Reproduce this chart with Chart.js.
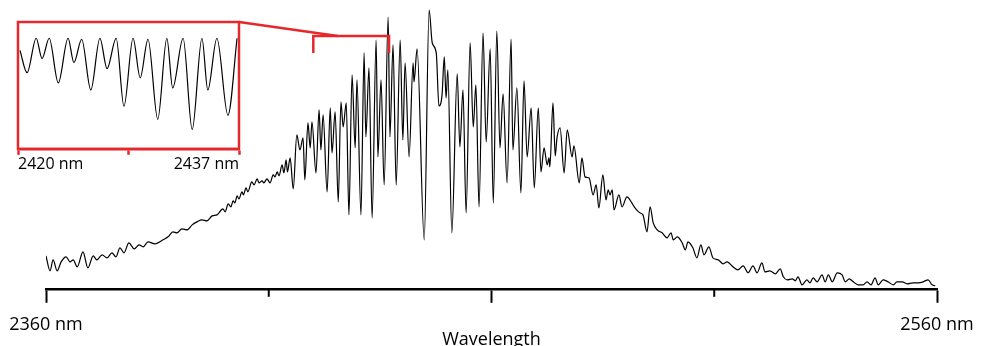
<!DOCTYPE html>
<html>
<head>
<meta charset="utf-8">
<script src="https://cdn.jsdelivr.net/npm/chart.js@4/dist/chart.umd.min.js"></script>
<style>
  html, body { margin: 0; padding: 0; background: #fff; }
  #wrap { position: relative; width: 984px; height: 346px; }
  #mainChart, #insetChart { position: absolute; left: 0; top: 0; }
</style>
</head>
<body>
<div id="wrap">
  <canvas id="mainChart" width="984" height="346"></canvas>
  <canvas id="insetChart" width="250" height="180"></canvas>
</div>
<script>
// Full spectrum (wavelength in nm, intensity in arbitrary units)
const wavelengths = [
  2360.0, 2360.9, 2361.6, 2362.5, 2363.4, 2364.5, 2365.4, 2366.1, 2367.0, 2368.3,
  2369.4, 2370.6, 2371.4, 2372.6, 2373.7, 2374.8, 2375.7, 2376.6, 2377.5, 2378.6,
  2379.8, 2380.9, 2381.8, 2382.9, 2384.5, 2386.3, 2387.4, 2388.5, 2389.4, 2390.5,
  2391.7, 2392.8, 2393.9, 2395.0, 2396.1, 2397.3, 2398.4,
  2399.7, 2400.2, 2400.9, 2401.5, 2402.0, 2402.4, 2402.9, 2403.3, 2404.0, 2404.3,
  2404.9, 2405.3, 2406.2, 2406.7, 2407.4, 2407.8, 2408.5, 2408.9, 2409.6, 2410.3,
  2411.0, 2411.4, 2411.9, 2412.3, 2413.0, 2413.4, 2413.9, 2414.2, 2414.8, 2415.5,
  2416.3, 2417.0, 2417.7, 2418.1, 2418.8,
  2419.3, 2419.7, 2420.6, 2421.3, 2421.7, 2422.2, 2423.1, 2423.8, 2424.2, 2424.9,
  2425.6, 2426.2, 2426.7, 2427.4, 2428.0, 2428.7, 2429.4, 2429.8, 2430.7, 2431.4,
  2431.8, 2432.5, 2433.2, 2434.1, 2434.5, 2435.2, 2435.9, 2436.8, 2437.2, 2437.9,
  2438.6, 2439.5, 2440.1, 2440.6, 2441.5, 2442.4, 2442.6, 2443.3, 2444.9, 2446.0,
  2446.7, 2447.6, 2448.2, 2448.9, 2449.4, 2449.8, 2450.2, 2451.1, 2452.3, 2452.9,
  2453.6, 2454.3, 2455.2, 2455.9, 2456.5, 2457.2, 2458.1, 2458.8, 2459.7, 2460.4,
  2461.2, 2461.9, 2462.6, 2463.5, 2464.4, 2464.8, 2465.7, 2466.6, 2467.3, 2468.0,
  2468.9, 2469.6, 2470.5, 2471.1, 2471.8, 2472.5, 2472.9, 2473.1, 2473.8, 2474.3,
  2474.7, 2475.4, 2476.3, 2477.0, 2478.1, 2478.5, 2479.7, 2480.3, 2481.0, 2481.9,
  2482.8, 2483.5, 2484.1, 2485.0, 2485.7, 2486.2, 2486.6, 2487.1, 2487.5, 2488.6,
  2489.3, 2490.4, 2491.5, 2492.2, 2493.3, 2494.0, 2494.9, 2495.6, 2496.3, 2497.2,
  2498.3, 2499.4, 2500.3, 2500.8, 2501.7, 2502.8, 2503.5, 2504.1, 2505.2, 2506.1,
  2507.0, 2507.7, 2508.8, 2509.7, 2510.9, 2512.0, 2512.9, 2514.2, 2515.3, 2516.5,
  2517.6, 2518.7, 2519.6, 2520.7, 2521.4, 2522.5, 2523.7, 2524.8, 2525.5, 2526.4,
  2527.5, 2528.2, 2528.8, 2529.7, 2530.8, 2531.5, 2532.2, 2533.1, 2534.2, 2534.9,
  2535.6, 2536.5, 2537.6, 2538.7, 2539.4, 2540.3, 2541.2, 2542.3, 2543.4, 2544.3,
  2545.2, 2546.1, 2546.8, 2547.9, 2549.0, 2550.2, 2551.0, 2552.2, 2553.3, 2554.6,
  2555.8, 2556.9, 2558.0, 2558.9, 2559.6
];
const intensity = [
  33, 18, 29, 18, 27, 32, 27, 29, 22, 37,
  21, 33, 29, 34, 31, 36, 32, 41, 36, 46,
  40, 44, 42, 47, 45, 49, 52, 57, 56, 60,
  59, 64, 67, 69, 68, 73, 74,
  80, 77, 85, 82, 88, 86, 93, 90, 97, 94,
  101, 97, 107, 104, 110, 106, 108, 106, 110, 106,
  114, 112, 117, 113, 124, 116, 129, 117, 131, 100,
  154, 139, 151, 109, 166,
  141, 167, 116, 179, 139, 174, 97, 181, 136, 177,
  87, 187, 162, 186, 74, 214, 141, 209, 74, 236,
  152, 221, 71, 249, 132, 209, 104, 272, 152, 244,
  104, 249, 149, 226, 132, 226, 207, 240, 49, 279,
  246, 236, 183, 194, 232, 191, 219, 56, 215, 142,
  199, 76, 246, 162, 204, 82, 256, 147, 240, 86,
  258, 141, 195, 106, 250, 139, 201, 96, 208, 132,
  181, 101, 181, 117, 141, 124, 131, 122, 186, 133,
  151, 161, 116, 159, 132, 143, 106, 131, 112, 111,
  94, 104, 81, 114, 89, 99, 94, 99, 79, 94,
  82, 92, 86, 81, 76, 74, 57, 82, 66, 59,
  56, 51, 56, 49, 52, 46, 39, 47, 41, 31,
  44, 34, 42, 31, 29, 25, 27, 22, 19, 23,
  16, 23, 16, 26, 17, 18, 15, 20, 12, 9,
  10, 8, 12, 4, 9, 6, 11, 7, 14, 7,
  14, 7, 16, 14, 7, 10, 7, 4, 4, 7,
  4, 11, 4, 9, 7, 4, 7, 7, 5, 6,
  6, 7, 9, 4, 3
];

// Zoomed fringes shown in the inset (2420 - 2437 nm)
const insetWavelengths = [
  2420.15, 2420.7, 2421.4, 2421.85, 2422.4, 2423.1, 2423.85, 2424.3, 2424.9,
  2425.6, 2426.3, 2426.85, 2427.55, 2428.15, 2428.85, 2429.4, 2430.0, 2430.75,
  2431.45, 2431.9, 2432.7, 2433.4, 2434.15, 2434.6, 2435.3, 2436.15, 2436.85
];
const insetIntensity = [
  97, 75, 109, 89, 109, 65, 109, 85, 108,
  58, 109, 79, 109, 42, 109, 70, 108, 29,
  109, 60, 109, 19, 109, 58, 109, 33, 109
];

const axisTicks = [2360, 2410, 2460, 2510, 2560];
const majorTicks = [2360, 2460, 2560];
const labeledTicks = [2360, 2560];
const zoomRange = [2420, 2437];
const insetTicks = [2420, 2428.5, 2437];

const RED = '#e5282c';
const FONT = "'Open Sans', sans-serif";

// inset: a second chart on its own canvas, framed in red
const insetFrame = {
  id: 'insetFrame',
  afterDraw(chart) {
    const a = chart.chartArea, ctx = chart.ctx;
    ctx.save();
    ctx.strokeStyle = RED;
    ctx.lineWidth = 2.5;
    ctx.strokeRect(a.left, a.top, a.right - a.left, a.bottom - a.top);
    ctx.restore();
  }
};

const insetChart = new Chart(document.getElementById('insetChart'), {
  type: 'line',
  data: {
    datasets: [{
      data: insetWavelengths.map((w, i) => ({ x: w, y: insetIntensity[i] })),
      borderColor: '#000',
      borderWidth: 1.2,
      pointRadius: 0,
      cubicInterpolationMode: 'monotone'
    }]
  },
  options: {
    responsive: false,
    animation: false,
    layout: { padding: { left: 18, top: 22, right: 11, bottom: 6 } },
    plugins: { legend: { display: false }, tooltip: { enabled: false } },
    scales: {
      x: {
        type: 'linear',
        min: zoomRange[0],
        max: zoomRange[1],
        afterBuildTicks: (s) => { s.ticks = insetTicks.map(v => ({ value: v })); },
        ticks: {
          align: 'inner',
          maxRotation: 0,
          autoSkip: false,
          padding: 0,
          color: '#000',
          font: { family: FONT, size: 16 },
          callback: (v) => (v === zoomRange[0] || v === zoomRange[1]) ? v + ' nm' : ''
        },
        grid: { drawOnChartArea: false, tickLength: 6, tickColor: RED, tickWidth: 2.5 },
        border: { color: RED, width: 2.5 }
      },
      y: { display: false, min: 0, max: 125 }
    }
  },
  plugins: [insetFrame]
});

// minor ticks, zoom bracket and connector to the inset
const markers = {
  id: 'markers',
  afterDraw(chart) {
    const ctx = chart.ctx, xs = chart.scales.x, ys = chart.scales.y;
    const axisY = chart.chartArea.bottom;
    ctx.save();
    ctx.strokeStyle = '#000';
    ctx.lineWidth = 2;
    axisTicks.filter(v => !majorTicks.includes(v)).forEach(v => {
      const px = xs.getPixelForValue(v);
      ctx.beginPath();
      ctx.moveTo(px, axisY);
      ctx.lineTo(px, axisY + 8);
      ctx.stroke();
    });

    const x1 = xs.getPixelForValue(zoomRange[0]);
    const x2 = xs.getPixelForValue(zoomRange[1]);
    const yb = ys.getPixelForValue(253);
    const yd = ys.getPixelForValue(236);
    ctx.strokeStyle = RED;
    ctx.lineWidth = 2.5;
    ctx.beginPath();
    ctx.moveTo(x1, yd);
    ctx.lineTo(x1, yb);
    ctx.lineTo(x2, yb);
    ctx.lineTo(x2, yd);
    ctx.stroke();

    const ia = insetChart.chartArea;
    ctx.beginPath();
    ctx.moveTo(ia.right, ia.top);
    ctx.lineTo(xs.getPixelForValue(2425.5), yb);
    ctx.stroke();
    ctx.restore();
  }
};

new Chart(document.getElementById('mainChart'), {
  type: 'line',
  data: {
    datasets: [{
      data: wavelengths.map((w, i) => ({ x: w, y: intensity[i] })),
      borderColor: '#000',
      borderWidth: 1.2,
      pointRadius: 0,
      cubicInterpolationMode: 'monotone'
    }]
  },
  options: {
    responsive: false,
    animation: false,
    layout: { padding: { left: 46, right: 47, top: 5, bottom: -4.5 } },
    plugins: { legend: { display: false }, tooltip: { enabled: false } },
    scales: {
      x: {
        type: 'linear',
        min: axisTicks[0],
        max: axisTicks[axisTicks.length - 1],
        afterBuildTicks: (s) => { s.ticks = axisTicks.map(v => ({ value: v })); },
        afterFit: (s) => { s.paddingLeft = 0; s.paddingRight = 0; },
        ticks: {
          maxRotation: 0,
          autoSkip: false,
          padding: 11,
          color: '#000',
          font: { family: FONT, size: 18 },
          callback: (v) => labeledTicks.includes(v) ? v + ' nm' : ''
        },
        grid: {
          drawOnChartArea: false,
          tickLength: 14,
          tickWidth: 2,
          tickColor: (c) => (c.tick && majorTicks.includes(c.tick.value)) ? '#000' : 'rgba(0,0,0,0)'
        },
        border: { color: '#000', width: 2.5 },
        title: {
          display: true,
          text: 'Wavelength',
          color: '#000',
          font: { family: FONT, size: 18 },
          padding: { top: -17.5, bottom: 0 }
        }
      },
      y: { display: false, min: 0, max: 284 }
    }
  },
  plugins: [markers]
});
</script>
</body>
</html>
